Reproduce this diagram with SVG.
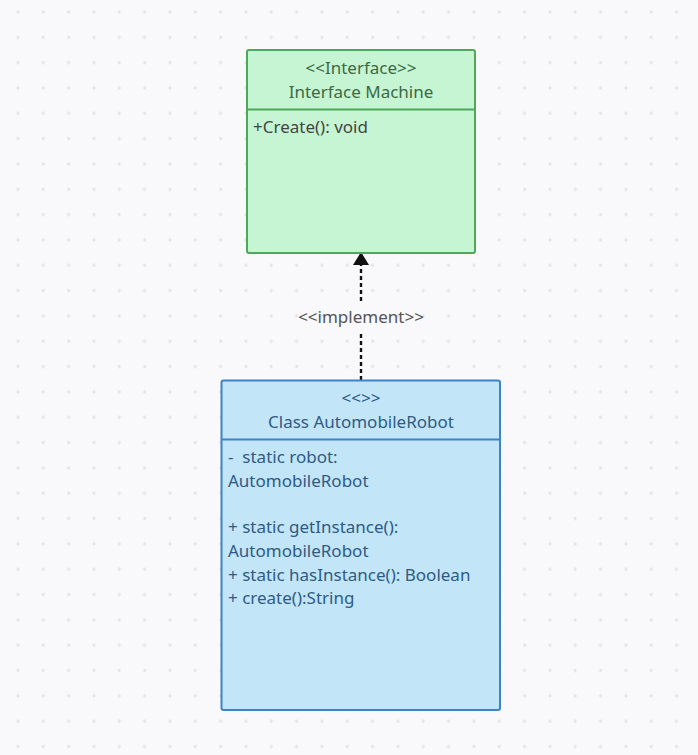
<svg xmlns="http://www.w3.org/2000/svg" width="698" height="755" viewBox="0 0 698 755">
<defs>
<pattern id="dots" x="5.3" y="-0.7" width="25.33" height="25.33" patternUnits="userSpaceOnUse">
<circle cx="12.67" cy="12.67" r="1.6" fill="#e3e3e6"/>
</pattern>
<style>
text{font-family:"Noto Sans","Open Sans",sans-serif;font-size:17px}
.g{fill:#3c6a44}
.b{fill:#2e5b86}
.c{text-anchor:middle}
</style>
</defs>
<rect width="698" height="755" fill="#f9f9fb"/>
<rect width="698" height="755" fill="url(#dots)"/>
<g id="connectors">
<line x1="361" y1="380" x2="361" y2="331" stroke="#111" stroke-width="2.4" stroke-dasharray="4,3"/>
<line x1="361" y1="301" x2="361" y2="265" stroke="#111" stroke-width="2.4" stroke-dasharray="4,3"/>
<polygon points="361,252 353,265 369,265" fill="#111"/>
<text x="361" y="323" class="c" fill="#555">&lt;&lt;implement&gt;&gt;</text>
</g>
<g id="interface-machine">
<rect x="247" y="50" width="228" height="203" rx="2" fill="#c6f5d3" stroke="#4ea85a" stroke-width="2"/>
<line x1="247" y1="109.5" x2="475" y2="109.5" stroke="#4ea85a" stroke-width="2"/>
<text x="361" y="74" class="c g">&lt;&lt;Interface&gt;&gt;</text>
<text x="361" y="98" class="c g">Interface Machine</text>
<text x="253" y="133" fill="#444">+Create(): void</text>
</g>
<g id="automobile-robot">
<rect x="221.5" y="380.5" width="278.5" height="329.5" rx="2" fill="#c3e5f8" stroke="#3b84c9" stroke-width="2"/>
<line x1="221.5" y1="439.5" x2="500" y2="439.5" stroke="#3b84c9" stroke-width="2"/>
<text x="361" y="404" class="c b">&lt;&lt;&gt;&gt;</text>
<text x="361" y="428" class="c b">Class AutomobileRobot</text>
<text x="228" y="463" class="b" xml:space="preserve">-  static robot:</text>
<text x="228" y="487" class="b">AutomobileRobot</text>
<text x="228" y="533" class="b">+ static getInstance():</text>
<text x="228" y="557" class="b">AutomobileRobot</text>
<text x="228" y="581" class="b">+ static hasInstance(): Boolean</text>
<text x="228" y="604" class="b">+ create():String</text>
</g>
</svg>
